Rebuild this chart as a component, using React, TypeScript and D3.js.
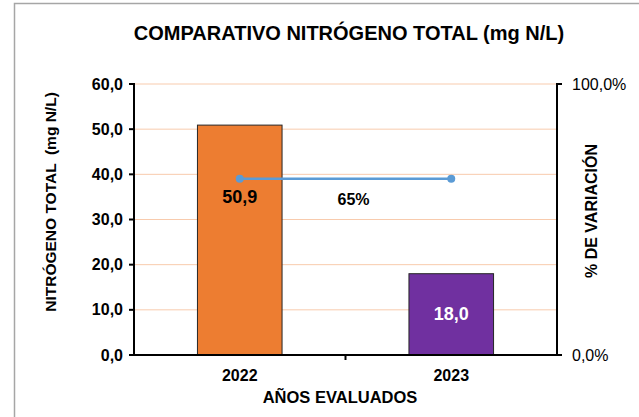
import * as d3 from "d3";
import { useRef, useEffect } from "react";

const categories = ["2022", "2023"];
const nitrogen = [50.9, 18.0];
const variation = [0.65, 0.65];
const variationLabel = "65%";
const leftTicks = [0, 10, 20, 30, 40, 50, 60];
const rightTicks = [0, 1];
const barColors = ["#ED7D31", "#7030A0"];
const labelColors = ["#000000", "#FFFFFF"];

function App() {
  const width = 639;
  const height = 417;
  const svgRef = useRef(null);

  useEffect(() => {
    const svg = d3.select(svgRef.current);
    svg.selectAll("*").remove();

    const left = 134;
    const right = 557;
    const top = 84;
    const bottom = 355;
    const font = "Arial, 'Liberation Sans', sans-serif";

    const x = d3.scaleBand().domain(categories).range([left, right]);
    const y = d3.scaleLinear().domain([0, 60]).range([bottom, top]);
    const y2 = d3.scaleLinear().domain([0, 1]).range([bottom, top]);
    const barW = x.bandwidth() * 0.4;

    // chart frame
    svg
      .append("rect")
      .attr("x", 14.5)
      .attr("y", 3.5)
      .attr("width", 640)
      .attr("height", 430)
      .attr("fill", "white")
      .attr("stroke", "#a6a6a6")
      .attr("stroke-width", 1.5);

    svg
      .append("text")
      .attr("x", 349)
      .attr("y", 40)
      .attr("text-anchor", "middle")
      .style("font-family", font)
      .style("font-size", "20px")
      .style("font-weight", "bold")
      .text("COMPARATIVO NITRÓGENO TOTAL (mg N/L)");

    // gridlines
    svg
      .selectAll(".grid")
      .data(leftTicks.filter((d) => d > 0))
      .join("line")
      .attr("class", "grid")
      .attr("x1", left)
      .attr("x2", right)
      .attr("y1", (d) => y(d))
      .attr("y2", (d) => y(d))
      .attr("stroke", "#F8CBAD")
      .attr("stroke-width", 1);

    // bars
    svg
      .selectAll(".bar")
      .data(nitrogen)
      .join("rect")
      .attr("class", "bar")
      .attr("x", (d, i) => x(categories[i]) + (x.bandwidth() - barW) / 2)
      .attr("y", (d) => y(d))
      .attr("width", barW)
      .attr("height", (d) => bottom - y(d))
      .attr("fill", (d, i) => barColors[i])
      .attr("stroke", "#262626")
      .attr("stroke-width", 1);

    // axes
    const axisG = svg.append("g").attr("stroke", "#000").attr("stroke-width", 2);
    axisG.append("line").attr("x1", left).attr("x2", left).attr("y1", top - 1).attr("y2", bottom + 1);
    axisG.append("line").attr("x1", right).attr("x2", right).attr("y1", top - 1).attr("y2", bottom + 1);
    axisG.append("line").attr("x1", left - 1).attr("x2", right + 1).attr("y1", bottom).attr("y2", bottom);
    axisG
      .selectAll(".lt")
      .data(leftTicks)
      .join("line")
      .attr("x1", left - 5)
      .attr("x2", left)
      .attr("y1", (d) => y(d))
      .attr("y2", (d) => y(d));
    axisG
      .selectAll(".rt")
      .data(rightTicks)
      .join("line")
      .attr("x1", right)
      .attr("x2", right + 5)
      .attr("y1", (d) => y2(d))
      .attr("y2", (d) => y2(d));
    axisG
      .append("line")
      .attr("x1", x(categories[1]))
      .attr("x2", x(categories[1]))
      .attr("y1", bottom)
      .attr("y2", bottom + 5);

    const fmt = (v) => d3.format(".1f")(v).replace(".", ",");

    svg
      .selectAll(".ltl")
      .data(leftTicks)
      .join("text")
      .attr("x", left - 11)
      .attr("y", (d) => y(d))
      .attr("dy", "0.35em")
      .attr("text-anchor", "end")
      .style("font-family", font)
      .style("font-size", "16px")
      .style("font-weight", "bold")
      .text((d) => fmt(d));

    svg
      .selectAll(".rtl")
      .data(rightTicks)
      .join("text")
      .attr("x", right + 15)
      .attr("y", (d) => y2(d))
      .attr("dy", "0.35em")
      .style("font-family", font)
      .style("font-size", "16px")
      .text((d) => fmt(d * 100) + "%");

    svg
      .selectAll(".xtl")
      .data(categories)
      .join("text")
      .attr("x", (d) => x(d) + x.bandwidth() / 2)
      .attr("y", 381)
      .attr("text-anchor", "middle")
      .style("font-family", font)
      .style("font-size", "16px")
      .style("font-weight", "bold")
      .text((d) => d);

    // axis titles
    svg
      .append("text")
      .attr("x", 340)
      .attr("y", 403)
      .attr("text-anchor", "middle")
      .style("font-family", font)
      .style("font-size", "16.5px")
      .style("font-weight", "bold")
      .text("AÑOS EVALUADOS");

    svg
      .append("text")
      .attr("transform", "translate(56,202) rotate(-90)")
      .attr("text-anchor", "middle")
      .style("font-family", font)
      .style("font-size", "15.5px")
      .style("font-weight", "bold")
      .style("white-space", "pre")
      .text("NITRÓGENO TOTAL  (mg N/L)");

    svg
      .append("text")
      .attr("transform", "translate(597,211) rotate(-90)")
      .attr("text-anchor", "middle")
      .style("font-family", font)
      .style("font-size", "16px")
      .style("font-weight", "bold")
      .text("% DE VARIACIÓN");

    // variation line
    const pts = variation.map((v, i) => ({
      x: x(categories[i]) + x.bandwidth() / 2,
      y: y2(v),
    }));
    const line = d3
      .line()
      .x((d) => d.x)
      .y((d) => d.y);
    svg
      .append("path")
      .datum(pts)
      .attr("d", line)
      .attr("fill", "none")
      .attr("stroke", "#5B9BD5")
      .attr("stroke-width", 2.5);
    svg
      .selectAll(".pt")
      .data(pts)
      .join("circle")
      .attr("cx", (d) => d.x)
      .attr("cy", (d) => d.y)
      .attr("r", 4)
      .attr("fill", "#5B9BD5");

    svg
      .append("text")
      .attr("x", (pts[0].x + pts[1].x) / 2 + 8)
      .attr("y", pts[0].y + 26)
      .attr("text-anchor", "middle")
      .style("font-family", font)
      .style("font-size", "16px")
      .style("font-weight", "bold")
      .text(variationLabel);

    // bar labels
    svg
      .selectAll(".bl")
      .data(nitrogen)
      .join("text")
      .attr("x", (d, i) => x(categories[i]) + x.bandwidth() / 2)
      .attr("y", (d, i) => (i === 0 ? y2(variation[0]) + 24 : (y(d) + bottom) / 2 + 6))
      .attr("text-anchor", "middle")
      .attr("fill", (d, i) => labelColors[i])
      .style("font-family", font)
      .style("font-size", "18px")
      .style("font-weight", "bold")
      .text((d) => fmt(d));
  }, []);

  return (
    <svg
      ref={svgRef}
      width={width}
      height={height}
      style={{ position: "absolute", left: 0, top: 0 }}
    ></svg>
  );
}

export default App;
